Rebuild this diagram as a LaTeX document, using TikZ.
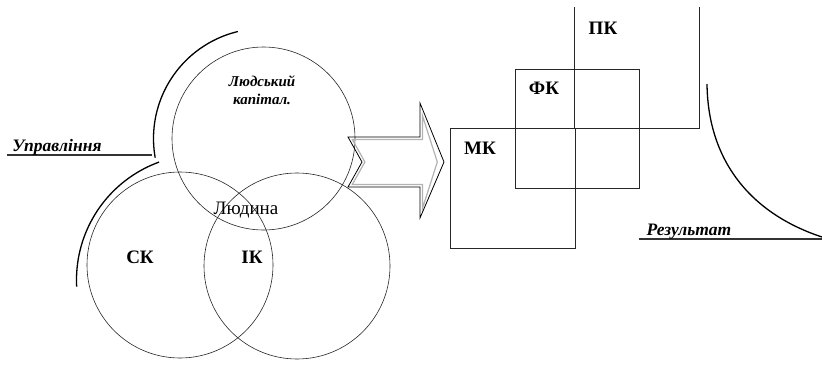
\documentclass[tikz,border=0pt]{standalone}
\usepackage{fontspec}
\setmainfont{Liberation Serif}
\begin{document}
\begin{tikzpicture}[x=1pt,y=-1pt,
  ring/.style={draw=black!85,line width=0.6pt},
  heavy/.style={draw=black,line width=1.3pt},
  box/.style={draw=black!85,line width=0.8pt},
  capl/.style={inner sep=0pt,font=\fontsize{19}{19}\selectfont\bfseries},
  itl/.style={inner sep=0pt,font=\fontsize{17.5}{17.5}\selectfont\bfseries\itshape},
  smallitl/.style={inner sep=0pt,font=\fontsize{15}{15}\selectfont\bfseries\itshape,align=center}
]
\useasboundingbox (0,0) rectangle (822,367);

% circles
\draw[ring] (263.5,138.5) circle[radius=91.5pt];
\draw[ring] (180,265) circle[radius=93pt];
\draw[ring] (297,266) circle[radius=93pt];

% arcs
\draw[heavy,domain=-103.5:-190,samples=80,smooth,variable=\t]
  plot ({263.5+110*cos(\t)},{138.5+110*sin(\t)});
\draw[heavy,domain=-110:-183,samples=80,smooth,variable=\t]
  plot ({202+125.5*cos(\t)},{280+125.5*sin(\t)});

% Управління
\coordinate (u1) at (7,155);
\coordinate (u2) at (152,155);
\draw[black!80,line width=1.2pt] (u1) -- (u2);
\node[itl,anchor=base] (upr) at (57,151) {Управління};

% texts in circles
\node[smallitl,anchor=base] (lk1) at (262,86) {Людський};
\node[smallitl,anchor=base] (lk2) at (262,104) {капітал.};
\node[inner sep=0pt,font=\fontsize{19}{19}\selectfont,anchor=base] (lud) at (246,214) {Людина};
\node[capl,anchor=base] (sk) at (140,263) {СК};
\node[capl,anchor=base] (ik) at (252,263) {ІК};

% arrow
\draw[gray!60,line width=1.2pt,line join=miter]
  (352.3,139.5) -- (422.5,139.5) -- (422.5,115.7) -- (437.3,162) -- (422.5,208.3)
  -- (422.5,184.5) -- (352.3,184.5) -- (364.9,162) -- cycle;
\draw[black,line width=0.8pt,line join=miter]
  (348,137) -- (420,137) -- (420,103) -- (444,162) -- (420,218)
  -- (420,187) -- (348,187) -- (362,162) -- cycle;

% squares
\draw[box] (574,7) -- (574,128) -- (699,128) -- (699,7);
\draw[box] (515,69) rectangle (639,188);
\draw[box] (450,128) rectangle (575,248);
\node[capl,anchor=base] (pk) at (603,34) {ПК};
\node[capl,anchor=base] (fk) at (544,94) {ФК};
\node[capl,anchor=base] (mk) at (480,154) {МК};

% Результат
\coordinate (r1) at (639,239);
\coordinate (r2) at (822,239);
\draw[black!80,line width=1.3pt] (r1) -- (r2);
\node[itl,anchor=base] (res) at (689,235) {Результат};
\coordinate (c1) at (707,84);
\coordinate (c2) at (822,237);
\draw[heavy] (c1) .. controls (708,165) and (755,215) .. (c2);
\end{tikzpicture}
\end{document}
